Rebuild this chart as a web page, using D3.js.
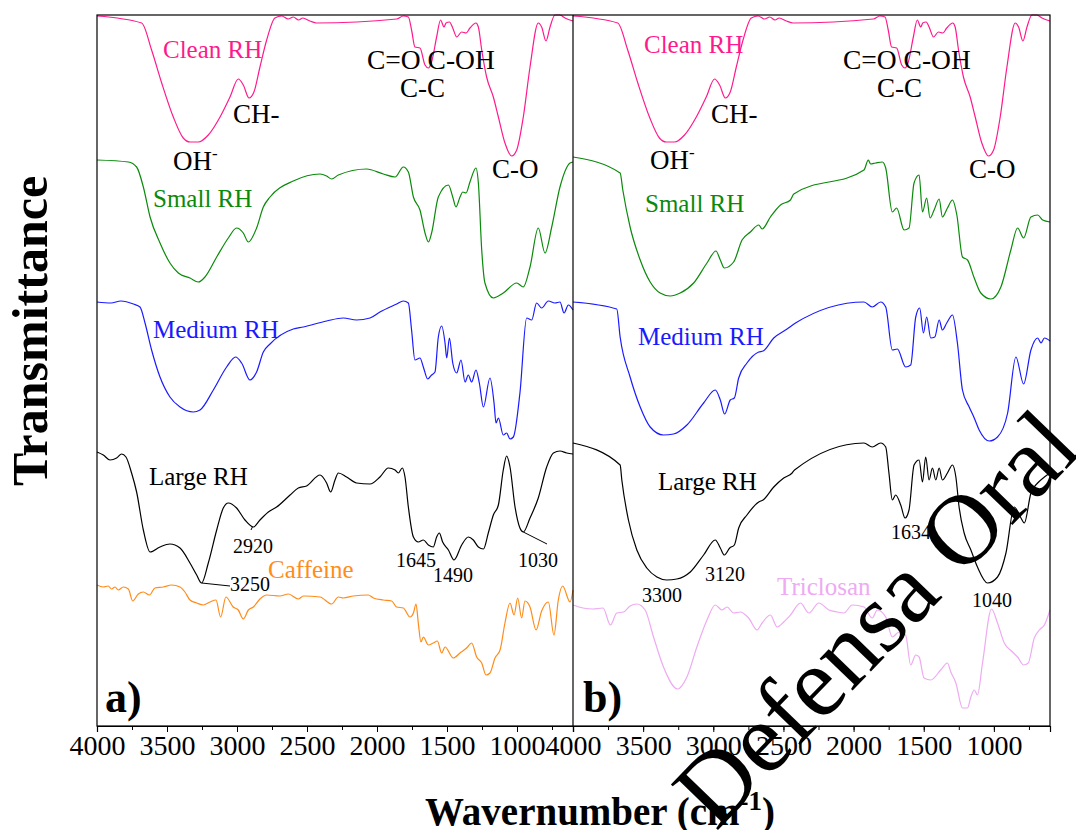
<!DOCTYPE html>
<meta charset="utf-8">
<script src="https://d3js.org/d3.v7.min.js"></script>
<style>
  body { margin: 0; background: #fff; }
  text { font-family: "Liberation Serif", "Times New Roman", serif; }
</style>
<div id="my_dataviz"></div>
<script>

// x: wavenumber (cm-1), y: transmittance (a.u., spectra stacked)
var xTicks = [4000, 3500, 3000, 2500, 2000, 1500, 1000];

var cleanRH = [[4000,710],[3681,703],[3610,676],[3538,643],[3455,609],[3384,588],[3336,584],[3276,584],[3205,591],[3121,609],[3050,629],[2991,647],[2955,641],[2914,628],[2879,634],[2836,659],[2788,686],[2729,708],[2681,710],[2634,707],[2598,709],[2560,706],[2530,708],[2479,705],[2431,703],[1859,707],[1812,710],[1776,709],[1753,696],[1729,679],[1693,678],[1657,661],[1633,658],[1610,664],[1574,689],[1546,706],[1521,699],[1507,703],[1483,704],[1459,698],[1431,689],[1395,694],[1364,693],[1336,698],[1293,703],[1276,699],[1252,676],[1217,649],[1169,629],[1133,609],[1086,583],[1038,570],[1002,576],[955,609],[907,659],[848,703],[824,699],[793,685],[764,699],[729,711],[693,711],[657,708],[600,705]];

var smallRHa = [[4000,566],[3776,564],[3717,559],[3669,539],[3621,509],[3550,483],[3479,463],[3419,453],[3336,448],[3276,444],[3229,449],[3145,469],[3062,488],[3003,498],[2955,493],[2919,484],[2860,498],[2812,519],[2764,529],[2598,545],[2407,552],[2360,550],[2324,547],[2276,551],[2074,557],[1955,552],[1871,549],[1812,559],[1776,554],[1740,529],[1693,516],[1657,493],[1633,484],[1610,493],[1562,529],[1490,541],[1459,529],[1436,519],[1407,529],[1388,534],[1364,533],[1336,544],[1293,558],[1276,543],[1252,476],[1229,443],[1169,428],[1098,433],[1002,443],[955,439],[907,459],[848,498],[800,473],[752,499],[693,539],[621,563],[600,564]];

var smallRHb = [[4000,569],[3664,553],[3645,536],[3593,499],[3521,466],[3450,444],[3379,433],[3307,430],[3236,433],[3140,443],[3045,463],[2981,475],[2950,466],[2921,458],[2855,464],[2795,486],[2736,494],[2676,501],[2652,497],[2593,509],[2521,521],[2450,526],[2426,532],[1926,556],[1895,566],[1879,562],[1843,563],[1795,564],[1771,558],[1724,514],[1693,518],[1640,496],[1605,498],[1569,543],[1533,551],[1509,514],[1479,528],[1455,508],[1426,516],[1390,527],[1367,509],[1331,518],[1295,526],[1264,511],[1224,469],[1188,466],[1140,448],[1093,433],[1021,427],[950,439],[879,476],[831,498],[788,488],[736,509],[688,511],[652,506],[600,504]];

var mediumRHa = [[4000,424],[3900,423],[3830,425],[3740,422],[3693,419],[3657,403],[3610,376],[3550,349],[3479,329],[3407,319],[3312,314],[3264,316],[3169,336],[3074,359],[3010,369],[2967,363],[2907,346],[2860,354],[2812,374],[2764,382],[2598,397],[2526,399],[2360,405],[2241,408],[2146,406],[2050,408],[1979,414],[1859,422],[1812,425],[1776,423],[1753,396],[1729,366],[1693,368],[1669,359],[1638,347],[1610,351],[1586,354],[1562,389],[1538,400],[1514,383],[1502,368],[1483,388],[1459,363],[1431,353],[1400,366],[1371,344],[1348,351],[1324,344],[1293,356],[1269,343],[1240,319],[1193,348],[1164,323],[1150,303],[1133,308],[1098,291],[1074,293],[1050,287],[1026,289],[979,333],[931,408],[895,406],[860,423],[824,418],[776,425],[729,423],[693,424],[664,413],[633,421],[600,416]];

var mediumRHb = [[4000,424],[3688,417],[3664,389],[3593,349],[3521,319],[3450,299],[3355,291],[3283,292],[3188,301],[3069,323],[2986,336],[2950,326],[2919,312],[2879,326],[2850,328],[2819,348],[2760,363],[2676,374],[2645,375],[2569,388],[2474,397],[2414,403],[1926,424],[1867,419],[1807,424],[1771,419],[1724,376],[1688,377],[1629,359],[1593,361],[1557,409],[1529,418],[1502,393],[1479,409],[1450,388],[1421,389],[1390,406],[1367,396],[1336,403],[1295,411],[1260,383],[1224,336],[1176,319],[1140,308],[1105,296],[1033,285],[974,289],[902,313],[843,369],[788,342],[736,376],[688,388],[664,383],[640,388],[600,385]];

var largeRHa = [[4000,274],[3955,271],[3907,266],[3860,268],[3824,272],[3793,269],[3753,253],[3717,234],[3669,196],[3621,174],[3550,179],[3479,182],[3407,178],[3336,163],[3288,151],[3253,143],[3205,163],[3145,196],[3098,218],[3062,223],[3003,218],[2943,206],[2883,199],[2836,206],[2776,214],[2717,219],[2621,231],[2562,238],[2503,240],[2407,251],[2360,243],[2331,234],[2300,246],[2276,253],[2217,249],[2146,243],[2050,242],[1979,249],[1919,258],[1871,256],[1848,253],[1819,258],[1800,249],[1776,219],[1740,189],[1705,184],[1669,186],[1633,181],[1598,179],[1574,189],[1555,193],[1531,184],[1490,176],[1450,166],[1395,181],[1348,189],[1312,186],[1276,179],[1240,177],[1205,193],[1169,211],[1133,221],[1098,256],[1074,270],[1050,259],[1014,219],[979,198],[955,194],[907,208],[848,228],[788,259],[740,273],[693,275],[645,273],[600,272]];

var largeRHb = [[4000,283],[3664,261],[3652,246],[3605,206],[3545,176],[3474,158],[3402,149],[3331,146],[3260,147],[3164,154],[3069,171],[2986,186],[2950,178],[2921,171],[2883,178],[2850,181],[2819,198],[2760,211],[2676,224],[2645,226],[2569,239],[2498,248],[2438,253],[2421,256],[1926,283],[1867,279],[1807,283],[1771,279],[1748,253],[1724,226],[1700,231],[1664,221],[1633,208],[1605,216],[1569,261],[1533,266],[1509,244],[1486,269],[1462,246],[1438,258],[1414,246],[1390,258],[1367,246],[1331,253],[1295,261],[1271,249],[1248,219],[1212,193],[1164,176],[1117,159],[1045,143],[974,149],[914,173],[855,219],[807,208],[783,203],[736,233],[688,243],[640,249],[600,253]];

var caffeine = [[4000,141],[3955,139],[3920,140],[3896,137],[3871,139],[3848,136],[3812,139],[3776,137],[3745,125],[3705,132],[3669,134],[3626,131],[3586,138],[3526,139],[3467,141],[3407,139],[3372,134],[3336,126],[3288,123],[3241,121],[3193,124],[3150,126],[3117,109],[3079,129],[3027,119],[2991,116],[2955,107],[2919,116],[2883,119],[2836,127],[2788,131],[2693,130],[2633,132],[2562,127],[2526,130],[2407,129],[2324,122],[2276,129],[2241,128],[2169,130],[2062,131],[2026,128],[1955,126],[1895,125],[1860,119],[1812,118],[1764,109],[1740,113],[1721,122],[1705,103],[1686,84],[1669,89],[1633,81],[1598,83],[1569,85],[1538,73],[1514,79],[1455,68],[1407,73],[1360,78],[1324,83],[1288,69],[1252,63],[1221,51],[1193,53],[1157,68],[1121,76],[1086,103],[1050,123],[1021,111],[995,128],[967,108],[943,125],[907,119],[864,96],[824,115],[776,124],[736,91],[705,126],[674,140],[621,124],[600,136]];

var triclosan = [[4000,121],[3929,118],[3857,117],[3786,118],[3733,101],[3688,113],[3640,114],[3593,120],[3545,122],[3486,116],[3426,89],[3355,59],[3255,37],[3188,49],[3117,79],[3045,106],[2986,121],[2938,116],[2902,119],[2855,113],[2807,114],[2748,108],[2688,96],[2652,103],[2593,111],[2545,99],[2498,104],[2450,111],[2379,123],[2319,113],[2248,123],[2176,116],[2117,114],[2069,113],[2010,121],[1926,119],[1867,108],[1831,116],[1771,109],[1724,89],[1676,94],[1629,91],[1593,61],[1557,71],[1533,69],[1498,48],[1450,46],[1379,56],[1331,63],[1307,54],[1271,43],[1224,18],[1188,18],[1164,29],[1140,36],[1117,31],[1081,63],[1017,117],[974,103],[926,83],[867,74],[831,69],[788,61],[755,63],[712,88],[676,96],[640,101],[600,116]];

// layout
var W = 1076, H = 830;
var plotTop = 15, plotBottom = 726;
var panelA = {x0: 97, x1: 573}, panelB = {x0: 573, x1: 1050};

var svg = d3.select("#my_dataviz")
  .append("svg")
    .attr("width", W)
    .attr("height", H);

var y = d3.scaleLinear().domain([0, 711]).range([plotBottom, plotTop]);
var xa = d3.scaleLinear().domain([4000, 600]).range([panelA.x0, panelA.x1]);
var xb = d3.scaleLinear().domain([4000, 600]).range([panelB.x0, panelB.x1]);

var pink = "#ff1a8c", green = "#0a8a0a", blue = "#1a1aff", orange = "#ff8c1a", violet = "#eeaaf2";

function drawSpectrum(x, data, color) {
  svg.append("path")
    .datum(data)
    .attr("fill", "none")
    .attr("stroke", color)
    .attr("stroke-width", 1.2)
    .attr("d", d3.line()
      .curve(d3.curveMonotoneX)
      .x(function(d) { return x(d[0]); })
      .y(function(d) { return y(d[1]); }));
}

// panel a
drawSpectrum(xa, cleanRH, pink);
drawSpectrum(xa, smallRHa, green);
drawSpectrum(xa, mediumRHa, blue);
drawSpectrum(xa, largeRHa, "black");
drawSpectrum(xa, caffeine, orange);
// panel b
drawSpectrum(xb, cleanRH, pink);
drawSpectrum(xb, smallRHb, green);
drawSpectrum(xb, mediumRHb, blue);
drawSpectrum(xb, largeRHb, "black");
drawSpectrum(xb, triclosan, violet);

// frame
svg.append("rect")
  .attr("x", panelA.x0).attr("y", plotTop)
  .attr("width", panelB.x1 - panelA.x0).attr("height", plotBottom - plotTop)
  .attr("fill", "none").attr("stroke", "black").attr("stroke-width", 1.2);
svg.append("line")
  .attr("x1", panelA.x1).attr("x2", panelA.x1)
  .attr("y1", plotTop).attr("y2", plotBottom)
  .attr("stroke", "black").attr("stroke-width", 1.2);

// x axes
[xa, xb].forEach(function(x) {
  var minor = d3.range(4000, 599, -250);
  svg.append("g")
    .attr("transform", "translate(0," + plotBottom + ")")
    .call(d3.axisBottom(x).tickValues(minor).tickSize(4).tickFormat(""))
    .call(function(g) { g.select(".domain").remove(); });
  svg.append("g")
    .attr("transform", "translate(0," + plotBottom + ")")
    .call(d3.axisBottom(x).tickValues(xTicks).tickSize(6).tickPadding(3).tickFormat(d3.format("d")))
    .call(function(g) {
      g.select(".domain").attr("stroke-width", 1.2);
      g.selectAll("text")
        .style("font-family", "Liberation Serif")
        .style("font-size", "28px")
        .attr("fill", "black");
    });
});

// annotations
function label(txt, x, yb, size, color, weight) {
  return svg.append("text")
    .attr("x", x).attr("y", yb)
    .style("font-size", size + "px")
    .style("font-weight", weight || "normal")
    .attr("fill", color || "black")
    .text(txt);
}
function ohLabel(x, yb) {
  var t = label("OH", x, yb, 27);
  t.append("tspan").attr("dy", -11).style("font-size", "17px").text("-");
}

[[0, {clean: [163, 58], ch: [233, 123], oh: [173, 170], co: [367, 69], cc: [400, 97], cO: [492, 178],
      small: [153, 207], medium: [153, 338], large: [149, 485]}],
 [1, {clean: [644, 53], ch: [711, 123], oh: [650, 169], co: [843, 69], cc: [877, 97], cO: [969, 178],
      small: [645, 212], medium: [638, 345], large: [658, 490]}]
].forEach(function(p) {
  var L = p[1];
  label("Clean RH", L.clean[0], L.clean[1], 25, pink);
  label("CH-", L.ch[0], L.ch[1], 27);
  ohLabel(L.oh[0], L.oh[1]);
  label("C=O C-OH", L.co[0], L.co[1], 27.5);
  label("C-C", L.cc[0], L.cc[1], 27);
  label("C-O", L.cO[0], L.cO[1], 27);
  label("Small RH", L.small[0], L.small[1], 25, green);
  label("Medium RH", L.medium[0], L.medium[1], 25, blue);
  label("Large RH", L.large[0], L.large[1], 25, "black");
});

// peak labels panel a
label("2920", 233, 553, 20);
label("3250", 230, 591, 20);
label("1645", 396, 567, 20);
label("1490", 433, 582, 20);
label("1030", 518, 567, 20);
label("Caffeine", 268, 578, 25, orange);
// leader lines
svg.append("path").attr("fill", "none").attr("stroke", "black").attr("stroke-width", 1)
  .attr("d", "M" + xa(3253) + "," + y(143) + "L230,586");
svg.append("path").attr("fill", "none").attr("stroke", "black").attr("stroke-width", 1)
  .attr("d", "M" + xa(2890) + "," + y(199) + "L251,530");
svg.append("path").attr("fill", "none").attr("stroke", "black").attr("stroke-width", 1)
  .attr("d", "M" + xa(955) + "," + y(194) + "L547,544");

// peak labels panel b
label("1634", 891, 539, 20);
label("3120", 705, 581, 20);
label("3300", 642, 602, 20);
label("1040", 972, 607, 20);
label("Triclosan", 777, 595, 25, violet);

// panel letters
label("a)", 105, 712, 44, "black", "bold");
label("b)", 583, 712, 44, "black", "bold");

// axis titles
svg.append("text")
  .attr("transform", "translate(47,331) rotate(-90)")
  .attr("text-anchor", "middle")
  .style("font-size", "50px").style("font-weight", "bold")
  .text("Transmittance");
var xt = svg.append("text")
  .attr("x", 425).attr("y", 825)
  .style("font-size", "39px").style("font-weight", "bold")
  .text("Wavernumber (cm");
xt.append("tspan").attr("dy", -15).style("font-size", "27px").text("-1");
xt.append("tspan").attr("dy", 15).text(")");

// watermark
svg.append("text")
  .attr("transform", "translate(716,832) rotate(-46)")
  .style("font-size", "100px")
  .attr("fill", "black")
  .text("Defensa Oral");

</script>
